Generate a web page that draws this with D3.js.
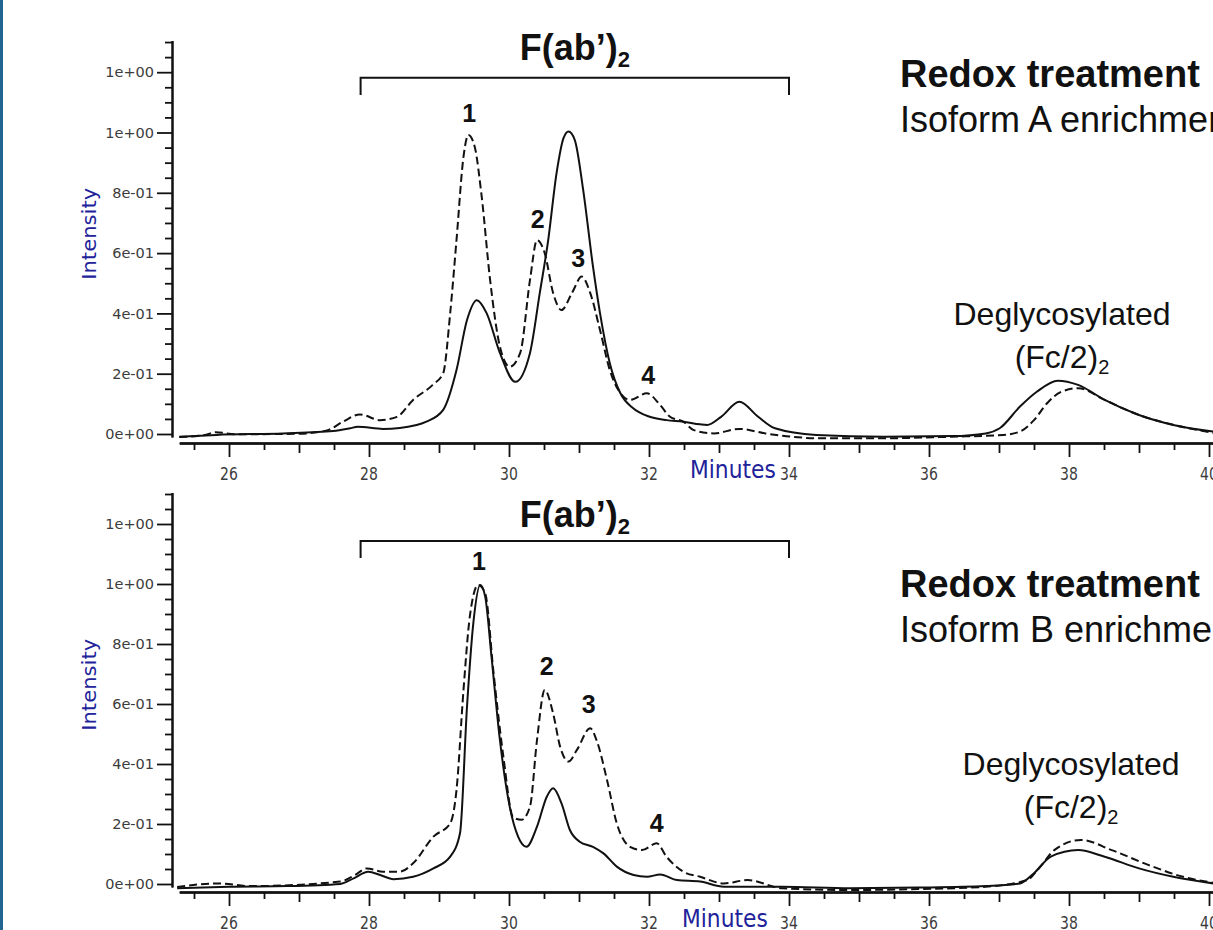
<!DOCTYPE html>
<html>
<head>
<meta charset="utf-8">
<script src="https://cdn.jsdelivr.net/npm/d3@7/dist/d3.min.js"></script>
<style>
  body { margin: 0; background: #fff; }
  svg { display: block; }
  .tick text { fill: #3c3c3c; }
</style>
</head>
<body>
<svg id="chart" width="1213" height="930"></svg>
<script>
  // retention time (minutes) and intensity
  var topSolidTime = [25.29, 25.82, 26.77, 27.49, 27.73, 27.84, 28.20, 28.68, 28.82, 29.06, 29.25, 29.40, 29.54, 29.68, 29.87, 30.09, 30.30, 30.44, 30.56, 30.68, 30.78, 30.85, 30.94, 31.06, 31.20, 31.30, 31.44, 31.59, 31.77, 32.01, 32.25, 32.49, 32.73, 32.83, 33.03, 33.29, 33.56, 33.80, 34.39, 35.36, 36.33, 36.81, 37.01, 37.30, 37.54, 37.84, 38.13, 38.51, 39.00, 39.49, 40.06];
  var topSolidInt = [-0.009, -0.003, 0.002, 0.010, 0.019, 0.024, 0.017, 0.030, 0.041, 0.080, 0.212, 0.378, 0.444, 0.401, 0.269, 0.173, 0.269, 0.468, 0.643, 0.866, 0.982, 1.003, 0.975, 0.809, 0.555, 0.401, 0.235, 0.136, 0.086, 0.057, 0.046, 0.041, 0.032, 0.030, 0.057, 0.107, 0.057, 0.019, -0.003, -0.009, -0.007, 0.002, 0.019, 0.091, 0.140, 0.177, 0.163, 0.113, 0.063, 0.030, 0.008];

  var topDashTime = [25.29, 25.66, 25.81, 26.09, 27.01, 27.40, 27.63, 27.87, 28.16, 28.40, 28.63, 28.91, 29.06, 29.16, 29.25, 29.35, 29.42, 29.51, 29.61, 29.73, 29.87, 30.01, 30.16, 30.30, 30.40, 30.51, 30.63, 30.75, 30.90, 31.04, 31.16, 31.30, 31.44, 31.59, 31.73, 31.97, 32.16, 32.30, 32.49, 32.64, 32.93, 33.29, 33.66, 34.04, 34.39, 35.36, 36.33, 37.06, 37.30, 37.50, 37.69, 37.89, 38.13, 38.51, 39.00, 39.50, 40.06];
  var topDashInt = [-0.010, -0.003, 0.006, -0.001, 0.001, 0.012, 0.041, 0.065, 0.046, 0.057, 0.113, 0.163, 0.202, 0.401, 0.643, 0.920, 0.992, 0.953, 0.787, 0.511, 0.290, 0.223, 0.269, 0.511, 0.643, 0.600, 0.468, 0.411, 0.468, 0.522, 0.468, 0.345, 0.212, 0.136, 0.113, 0.135, 0.096, 0.057, 0.041, 0.013, 0.002, 0.017, 0.002, -0.009, -0.014, -0.014, -0.009, -0.003, 0.008, 0.046, 0.103, 0.140, 0.152, 0.113, 0.063, 0.030, 0.004];

  var botSolidTime = [25.26, 26.00, 26.83, 27.59, 27.78, 27.99, 28.16, 28.35, 28.63, 28.92, 29.16, 29.30, 29.40, 29.49, 29.59, 29.66, 29.75, 29.87, 30.01, 30.13, 30.25, 30.40, 30.54, 30.63, 30.75, 30.87, 31.01, 31.20, 31.35, 31.54, 31.78, 31.97, 32.16, 32.40, 32.73, 33.07, 33.90, 34.87, 35.84, 36.81, 37.30, 37.50, 37.74, 38.13, 38.51, 39.00, 39.49, 40.06];
  var botSolidInt = [-0.014, -0.009, -0.007, 0.000, 0.019, 0.041, 0.030, 0.016, 0.024, 0.052, 0.091, 0.169, 0.591, 0.869, 0.997, 0.958, 0.758, 0.480, 0.258, 0.158, 0.124, 0.191, 0.291, 0.319, 0.269, 0.180, 0.141, 0.124, 0.102, 0.058, 0.030, 0.024, 0.032, 0.013, 0.008, -0.009, -0.009, -0.014, -0.012, -0.007, 0.002, 0.036, 0.091, 0.113, 0.091, 0.052, 0.024, 0.002];

  var botDashTime = [25.26, 25.85, 26.30, 27.59, 27.80, 27.97, 28.20, 28.44, 28.63, 28.92, 29.16, 29.25, 29.35, 29.44, 29.56, 29.66, 29.78, 29.92, 30.06, 30.18, 30.30, 30.40, 30.51, 30.63, 30.73, 30.85, 30.97, 31.16, 31.25, 31.40, 31.54, 31.73, 31.90, 32.11, 32.25, 32.49, 32.73, 33.07, 33.41, 33.90, 34.87, 35.84, 36.81, 37.40, 37.59, 37.79, 38.17, 38.61, 39.14, 39.63, 40.06];
  var botDashInt = [-0.010, 0.002, -0.007, 0.008, 0.030, 0.052, 0.041, 0.041, 0.069, 0.158, 0.202, 0.313, 0.647, 0.891, 0.997, 0.969, 0.702, 0.424, 0.222, 0.214, 0.258, 0.480, 0.647, 0.569, 0.458, 0.408, 0.447, 0.519, 0.480, 0.347, 0.202, 0.124, 0.113, 0.136, 0.091, 0.041, 0.024, 0.002, 0.013, -0.014, -0.020, -0.017, -0.009, 0.013, 0.058, 0.113, 0.147, 0.113, 0.063, 0.024, 0.004];

  // axis ticks
  var yMajorTicks = [0, 0.2, 0.4, 0.6, 0.8, 1.0, 1.2];
  var yTickLabels = ['0e+00', '2e-01', '4e-01', '6e-01', '8e-01', '1e+00', '1e+00'];
  var xTickValues = [26, 28, 30, 32, 34, 36, 38, 40];
  var xTickLabels = ['26', '28', '30', '32', '34', '36', '38', '40'];

  var peakLabels = ['1', '2', '3', '4'];
  var fabRange = [27.88, 34.0];

  var annFont = '"Liberation Sans", Arial, Helvetica, sans-serif';
  var axisFont = '"DejaVu Sans", Verdana, sans-serif';

  var panels = [
    { zeroY: 434, unit: 301.5, axisY: 443, solidT: topSolidTime, solidI: topSolidInt, dashT: topDashTime, dashI: topDashInt,
      peakT: [29.43, 30.41, 30.99, 31.99], peakV: [1.035, 0.683, 0.554, 0.166],
      bracketTop: 1.182, bracketEnd: 1.124, fabV: 1.24,
      degT: 37.9, degV: [0.362, 0.219], minutesX: 690,
      redoxY: 87, isoY: 132, isoform: 'Isoform A enrichment' },
    { zeroY: 884, unit: 300, axisY: 892, solidT: botSolidTime, solidI: botSolidInt, dashT: botDashTime, dashI: botDashInt,
      peakT: [29.57, 30.54, 31.14, 32.11], peakV: [1.047, 0.697, 0.57, 0.173],
      bracketTop: 1.143, bracketEnd: 1.087, fabV: 1.191,
      degT: 38.03, degV: [0.363, 0.22], minutesX: 682,
      redoxY: 597, isoY: 642, isoform: 'Isoform B enrichment' }
  ];

  var svg = d3.select('#chart');
  svg.append('rect').attr('x', 0).attr('y', 0).attr('width', 3).attr('height', 930).attr('fill', '#236591');

  var x = d3.scaleLinear().domain([26, 40]).range([229, 1209]);
  var xAxisScale = x.copy().domain([25.29, 40.2]).range([x(25.29), x(40.2)]);

  var yMinorTicks = d3.range(1, 27).filter(function (i) { return i % 4 != 0; }).map(function (i) { return i * 0.05; });
  var xLong = d3.range(26, 41, 2);
  var xMid = d3.range(27, 40, 2);
  var xShort = d3.range(25.5, 40, 1);

  function styleAxis(sel) {
    sel.selectAll('path').attr('stroke', '#111').attr('stroke-width', 2);
    sel.selectAll('line').attr('stroke', '#111').attr('stroke-width', 1.8);
  }

  panels.forEach(function (p) {
    var y = d3.scaleLinear().domain([0, 1]).range([p.zeroY, p.zeroY - p.unit]);
    var yAxisScale = y.copy().domain([-0.01, 1.305]).range([y(-0.01), y(1.305)]);
    var g = svg.append('g');

    // y axis
    g.append('g').attr('transform', 'translate(172,0)')
      .call(d3.axisLeft(yAxisScale).tickValues(yMinorTicks).tickSize(7).tickSizeOuter(0).tickFormat(''))
      .call(styleAxis);
    g.append('g').attr('transform', 'translate(172,0)')
      .call(d3.axisLeft(yAxisScale).tickValues(yMajorTicks).tickSize(15).tickSizeOuter(0).tickPadding(3)
        .tickFormat(function (d, i) { return yTickLabels[i]; }))
      .call(styleAxis)
      .selectAll('text')
      .attr('font-family', axisFont)
      .attr('font-size', '14.5px');

    // x axis, three tick lengths
    g.append('g').attr('transform', 'translate(0,' + p.axisY + ')')
      .call(d3.axisBottom(xAxisScale).tickValues(xShort).tickSize(7).tickSizeOuter(0).tickFormat(''))
      .call(styleAxis);
    g.append('g').attr('transform', 'translate(0,' + p.axisY + ')')
      .call(d3.axisBottom(xAxisScale).tickValues(xMid).tickSize(10).tickSizeOuter(0).tickFormat(''))
      .call(styleAxis);
    g.append('g').attr('transform', 'translate(0,' + p.axisY + ')')
      .call(d3.axisBottom(xAxisScale).tickValues(xLong).tickSize(14).tickSizeOuter(0).tickFormat(''))
      .call(styleAxis);

    g.selectAll('.xlab')
      .data(xTickValues)
      .enter()
      .append('text')
      .attr('transform', function (d) { return 'translate(' + x(d) + ',' + (p.axisY + 37) + ') scale(1,1.28)'; })
      .attr('text-anchor', 'middle')
      .attr('font-family', axisFont)
      .attr('font-size', '14px')
      .attr('fill', '#3c3c3c')
      .text(function (d, i) { return xTickLabels[i]; });

    // axis titles
    g.append('text')
      .attr('transform', 'translate(' + p.minutesX + ',' + (p.axisY + 35) + ') scale(1,1.15)')
      .attr('font-family', axisFont)
      .attr('font-size', '21.8px')
      .attr('fill', '#22229a')
      .text('Minutes');
    g.append('text')
      .attr('transform', 'translate(95.5,' + y(0.664) + ') rotate(-90)')
      .attr('text-anchor', 'middle')
      .attr('font-family', axisFont)
      .attr('font-size', '19px')
      .attr('textLength', 92)
      .attr('lengthAdjust', 'spacingAndGlyphs')
      .attr('fill', '#22229a')
      .text('Intensity');

    // traces
    var line = d3.line()
      .x(function (d) { return x(d[0]); })
      .y(function (d) { return y(d[1]); })
      .curve(d3.curveMonotoneX);
    g.append('path')
      .attr('d', line(d3.zip(p.dashT, p.dashI)))
      .attr('fill', 'none')
      .attr('stroke', '#111')
      .attr('stroke-width', 2)
      .attr('stroke-dasharray', '8,4');
    g.append('path')
      .attr('d', line(d3.zip(p.solidT, p.solidI)))
      .attr('fill', 'none')
      .attr('stroke', '#111')
      .attr('stroke-width', 2);

    // F(ab')2 bracket
    g.append('path')
      .attr('d', 'M' + x(fabRange[0]) + ',' + y(p.bracketEnd) + 'L' + x(fabRange[0]) + ',' + y(p.bracketTop) +
        'L' + x(fabRange[1]) + ',' + y(p.bracketTop) + 'L' + x(fabRange[1]) + ',' + y(p.bracketEnd))
      .attr('fill', 'none')
      .attr('stroke', '#111')
      .attr('stroke-width', 2);
    var fab = g.append('text')
      .attr('x', x((fabRange[0] + fabRange[1]) / 2))
      .attr('y', y(p.fabV))
      .attr('text-anchor', 'middle')
      .attr('font-family', annFont)
      .attr('font-weight', 'bold')
      .attr('font-size', '36px')
      .attr('fill', '#111');
    fab.append('tspan').text('F(ab\u2019)');
    fab.append('tspan').attr('font-size', '22px').attr('dy', 7).text('2');

    // peak numbers
    g.selectAll('.peak')
      .data(peakLabels)
      .enter()
      .append('text')
      .attr('x', function (d, i) { return x(p.peakT[i]); })
      .attr('y', function (d, i) { return y(p.peakV[i]); })
      .attr('text-anchor', 'middle')
      .attr('font-family', annFont)
      .attr('font-weight', 'bold')
      .attr('font-size', '25px')
      .attr('fill', '#111')
      .text(function (d) { return d; });

    // Fc annotation
    g.append('text')
      .attr('x', x(p.degT))
      .attr('y', y(p.degV[0]))
      .attr('text-anchor', 'middle')
      .attr('font-family', annFont)
      .attr('font-size', '32px')
      .attr('fill', '#111')
      .text('Deglycosylated');
    var fc = g.append('text')
      .attr('x', x(p.degT))
      .attr('y', y(p.degV[1]))
      .attr('text-anchor', 'middle')
      .attr('font-family', annFont)
      .attr('font-size', '32px')
      .attr('fill', '#111');
    fc.append('tspan').text('(Fc/2)');
    fc.append('tspan').attr('font-size', '20px').attr('dy', 6).text('2');

    // treatment label, cut by the right edge as in the figure
    g.append('text')
      .attr('x', 900)
      .attr('y', p.redoxY)
      .attr('font-family', annFont)
      .attr('font-weight', 'bold')
      .attr('font-size', '38px')
      .attr('fill', '#111')
      .text('Redox treatment');
    g.append('text')
      .attr('x', 900)
      .attr('y', p.isoY)
      .attr('font-family', annFont)
      .attr('font-size', '36px')
      .attr('fill', '#111')
      .text(p.isoform);
  });
</script>
</body>
</html>
